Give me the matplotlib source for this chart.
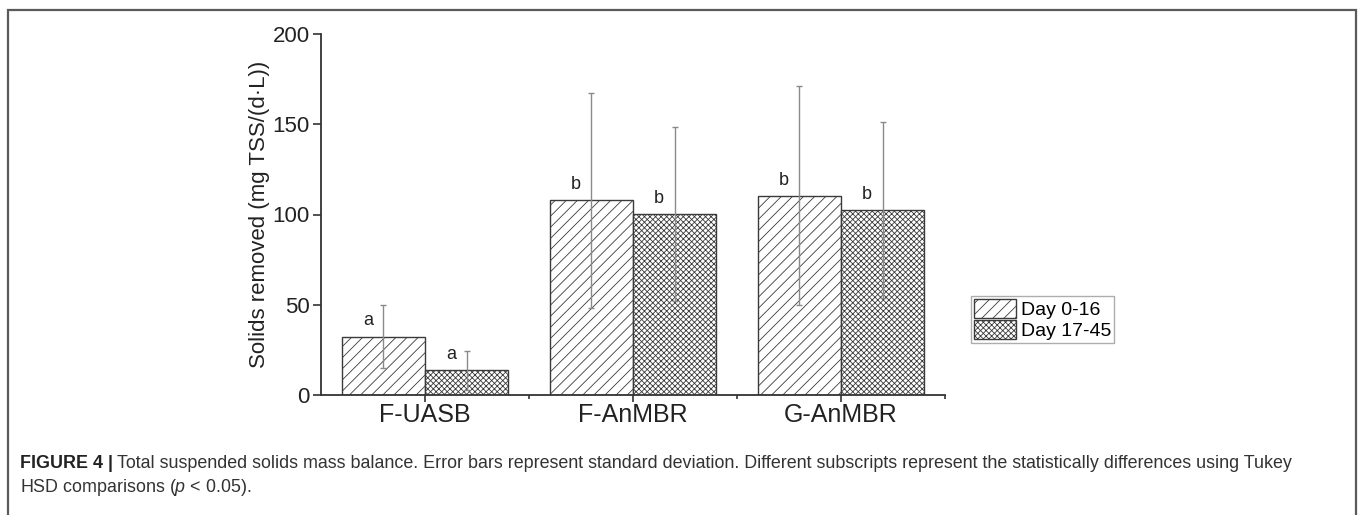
import numpy as np
import matplotlib
matplotlib.use("Agg")
import matplotlib.pyplot as plt
from matplotlib.patches import Rectangle

plt.rcParams["font.family"] = ["Liberation Sans", "DejaVu Sans"]
plt.rcParams["mathtext.fontset"] = "custom"
plt.rcParams["mathtext.rm"] = "Liberation Sans"
plt.rcParams["mathtext.it"] = "Liberation Sans:italic"
plt.rcParams["hatch.linewidth"] = 0.6

# ----- dados -----
reactors = ["F-UASB", "F-AnMBR", "G-AnMBR"]
series_names = ["Day 0-16", "Day 17-45"]
day0_16 = [32.3, 107.9, 110.4]
day0_16_sd = [17.5, 59.5, 60.6]
day17_45 = [13.8, 100.3, 102.5]
day17_45_sd = [10.8, 48.0, 49.0]
letters_0_16 = ["a", "b", "b"]
letters_17_45 = ["a", "b", "b"]
y_ticks = [0, 50, 100, 150, 200]

W, H = 1360, 515
fig = plt.figure(figsize=(W / 100, H / 100), dpi=100)
ax = fig.add_axes([321 / W, 1 - 395 / H, (945 - 321) / W, (395 - 34) / H])

x = np.arange(1, len(reactors) + 1)
bw = 0.4
edge = "#3a3a3a"
ax.bar(x - bw / 2, day0_16, bw, color="white", edgecolor=edge, hatch="///",
       linewidth=1.0, label=series_names[0], zorder=2)
ax.bar(x + bw / 2, day17_45, bw, color="white", edgecolor=edge, hatch="xxxxxx",
       linewidth=1.0, label=series_names[1], zorder=2)

ekw = dict(fmt="none", ecolor="#8a8a8a", elinewidth=1.0, capsize=2, capthick=1.0, zorder=3)
ax.errorbar(x - bw / 2, day0_16, yerr=day0_16_sd, **ekw)
ax.errorbar(x + bw / 2, day17_45, yerr=day17_45_sd, **ekw)

for xi, v, l in zip(x - bw / 2, day0_16, letters_0_16):
    ax.text(xi - 0.075, v + 4, l, ha="center", va="bottom", fontsize=13, color="#222222")
for xi, v, l in zip(x + bw / 2, day17_45, letters_17_45):
    ax.text(xi - 0.075, v + 4, l, ha="center", va="bottom", fontsize=13, color="#222222")

ax.set_xlim(0.5, 3.5)
ax.set_ylim(0, 200)
ax.set_yticks(y_ticks)
ax.set_xticks(x)
ax.set_xticklabels(reactors, fontsize=18)
ax.set_xticks([1.5, 2.5, 3.5], minor=True)
ax.tick_params(axis="y", labelsize=16, length=6, width=1.2, color="#333333",
               labelcolor="#222222", pad=2)
ax.tick_params(axis="x", which="major", length=5, width=1.2, color="#333333",
               labelcolor="#222222", pad=1)
ax.tick_params(axis="x", which="minor", length=3, width=1.2, color="#333333")
ax.set_ylabel("Solids removed (mg TSS/(d\u00b7L))", fontsize=16, color="#222222", labelpad=2)
for s in ["top", "right"]:
    ax.spines[s].set_visible(False)
for s in ["left", "bottom"]:
    ax.spines[s].set_color("#333333")
    ax.spines[s].set_linewidth(1.3)

leg = ax.legend(loc="upper left", bbox_to_anchor=(971 / W, 1 - 296 / H),
                bbox_transform=fig.transFigure, fontsize=14, frameon=True,
                fancybox=False, edgecolor="#999999", handlelength=2.15,
                handleheight=1.13, borderpad=0.15, labelspacing=0.05,
                handletextpad=0.25, borderaxespad=0)
leg.get_frame().set_linewidth(1.0)

# moldura externa
fig.patches.append(Rectangle((8 / W, -0.1), (1356 - 8) / W, 1.1 - 10 / H,
                             transform=fig.transFigure, fill=False,
                             edgecolor="#5a5a5a", linewidth=1.6))

# legenda da figura
cap_color = "#333333"
t = fig.text(20 / W, 1 - 463 / H, "FIGURE 4 |", fontsize=12.9, fontweight="bold",
             color="#222222", va="center", ha="left")
fig.canvas.draw()
bb = t.get_window_extent()
fig.text((bb.x1 + 4) / W, 1 - 463 / H,
         "Total suspended solids mass balance. Error bars represent standard deviation. "
         "Different subscripts represent the statistically differences using Tukey",
         fontsize=12.9, color=cap_color, va="center", ha="left")
fig.text(20 / W, 1 - 487 / H, "HSD comparisons ($p$ < 0.05).", fontsize=12.9,
         color=cap_color, va="center", ha="left")

fig.savefig("out.png", dpi=100)
